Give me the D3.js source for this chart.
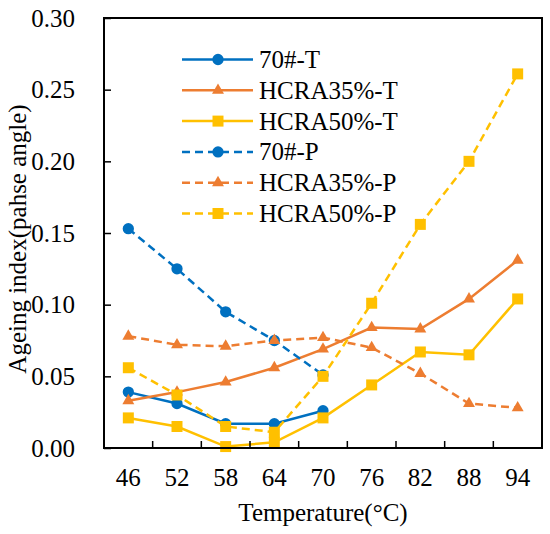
<!DOCTYPE html>
<html>
<head>
<meta charset="utf-8">
<script src="https://cdn.jsdelivr.net/npm/d3@7"></script>
<style>
  body { margin: 0; background: #fff; }
</style>
</head>
<body>
<div id="chart"></div>
<script>
let width = 550,
    height = 534,
    margin = ({ top: 18, right: 8, bottom: 86, left: 104 });

const FONT = "'Liberation Serif', 'Times New Roman', 'DejaVu Serif', serif";
const FS = 25;

// data
const temps = ["46", "52", "58", "64", "70", "76", "82", "88", "94"];
const t70 = [0.039, 0.031, 0.017, 0.017, 0.026];
const t35 = [0.033, 0.039, 0.046, 0.056, 0.069, 0.084, 0.083, 0.104, 0.131];
const t50 = [0.021, 0.015, 0.001, 0.004, 0.021, 0.044, 0.067, 0.065, 0.104];
const p70 = [0.153, 0.125, 0.095, 0.075, 0.051];
const p35 = [0.078, 0.072, 0.071, 0.075, 0.077, 0.070, 0.052, 0.031, 0.028];
const p50 = [0.056, 0.037, 0.015, 0.011, 0.050, 0.101, 0.156, 0.200, 0.261];
const yTicks = [0, 0.05, 0.10, 0.15, 0.20, 0.25, 0.30];

const series = [
  { name: "70#-T", values: t70, color: "#0070C0", marker: "circle", dashed: false },
  { name: "HCRA35%-T", values: t35, color: "#ED7D31", marker: "triangle", dashed: false },
  { name: "HCRA50%-T", values: t50, color: "#FFC000", marker: "square", dashed: false },
  { name: "70#-P", values: p70, color: "#0070C0", marker: "circle", dashed: true },
  { name: "HCRA35%-P", values: p35, color: "#ED7D31", marker: "triangle", dashed: true },
  { name: "HCRA50%-P", values: p50, color: "#FFC000", marker: "square", dashed: true }
];

const svg = d3.select("#chart")
  .append("svg")
  .attr("width", width)
  .attr("height", height)
  .attr("font-family", FONT);

let x = d3.scaleBand()
  .domain(temps)
  .range([margin.left, width - margin.right]);

let y = d3.scaleLinear()
  .domain([0, 0.30])
  .range([height - margin.bottom, margin.top]);

const symbolFor = {
  circle: d3.symbol().type(d3.symbolCircle).size(100),
  triangle: d3.symbol().type(d3.symbolTriangle).size(62),
  square: d3.symbol().type(d3.symbolSquare).size(121)
};

let line = d3.line()
  .x((d, i) => x(temps[i]) + x.bandwidth() / 2)
  .y(d => y(d));

// each series: line, then its markers
for (let s of series) {
  svg.append("path")
    .datum(s.values)
    .attr("fill", "none")
    .attr("stroke", s.color)
    .attr("stroke-width", 2.5)
    .attr("stroke-dasharray", s.dashed ? "8,5" : null)
    .attr("d", line);

  svg.append("g")
    .selectAll("path")
    .data(s.values)
    .join("path")
    .attr("transform", (d, i) => `translate(${x(temps[i]) + x.bandwidth() / 2},${y(d)})`)
    .attr("fill", s.color)
    .attr("d", symbolFor[s.marker]);
}

// frame
svg.append("rect")
  .attr("x", margin.left)
  .attr("y", margin.top)
  .attr("width", width - margin.left - margin.right)
  .attr("height", height - margin.top - margin.bottom)
  .attr("fill", "none")
  .attr("stroke", "#000")
  .attr("stroke-width", 2);

// left axis, inward ticks
svg.append("g")
  .attr("transform", `translate(${margin.left},0)`)
  .call(d3.axisLeft(y)
    .tickValues(yTicks)
    .tickSize(-7)
    .tickPadding(29)
    .tickFormat(d3.format(".2f")))
  .attr("font-family", FONT)
  .attr("font-size", FS)
  .call(g => g.select(".domain").remove())
  .call(g => g.selectAll("line").attr("stroke-width", 1.5))
  .call(g => g.selectAll("text").attr("fill", "#000"));

// bottom axis: ticks sit between categories
svg.append("g")
  .attr("transform", `translate(0,${height - margin.bottom})`)
  .selectAll("line")
  .data(temps.slice(1))
  .join("line")
  .attr("x1", d => x(d))
  .attr("x2", d => x(d))
  .attr("y1", 0)
  .attr("y2", -7)
  .attr("stroke", "#000")
  .attr("stroke-width", 1.5);

svg.append("g")
  .attr("transform", `translate(0,${height - margin.bottom})`)
  .selectAll("text")
  .data(temps)
  .join("text")
  .attr("x", d => x(d) + x.bandwidth() / 2)
  .attr("y", 38)
  .attr("text-anchor", "middle")
  .attr("font-size", FS)
  .text(d => d);

// axis titles
svg.append("text")
  .attr("x", margin.left + (width - margin.left - margin.right) / 2)
  .attr("y", 521)
  .attr("text-anchor", "middle")
  .attr("font-size", FS)
  .text("Temperature(°C)");

svg.append("text")
  .attr("transform", "translate(26,239) rotate(-90)")
  .attr("text-anchor", "middle")
  .attr("font-size", FS)
  .text("Ageing index(pahse angle)");

// legend
const legend = svg.append("g");
series.forEach((s, i) => {
  let ly = 59.5 + i * 30.8;
  legend.append("line")
    .attr("x1", 182).attr("x2", 253)
    .attr("y1", ly).attr("y2", ly)
    .attr("stroke", s.color)
    .attr("stroke-width", 2.5)
    .attr("stroke-dasharray", s.dashed ? "8,5" : null);
  legend.append("path")
    .attr("transform", `translate(218,${ly})`)
    .attr("fill", s.color)
    .attr("d", symbolFor[s.marker]);
  legend.append("text")
    .attr("x", 259)
    .attr("y", ly + 8.5)
    .attr("font-size", FS)
    .text(s.name);
});
</script>
</body>
</html>
